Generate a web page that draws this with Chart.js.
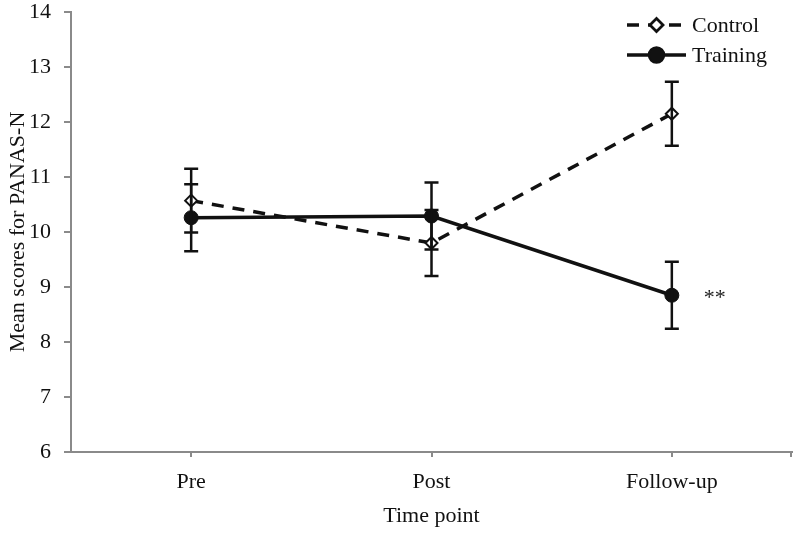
<!DOCTYPE html>
<html>
<head>
<meta charset="utf-8">
<title>PANAS-N</title>
<script src="https://cdn.jsdelivr.net/npm/chart.js@4"></script>
<style>
  html, body { margin: 0; padding: 0; background: #fff; }
  canvas { display: block; }
</style>
</head>
<body>
<canvas id="chart" width="800" height="533"></canvas>
<script>
const timePoints = ['Pre', 'Post', 'Follow-up'];
const controlMeans = [10.57, 9.80, 12.15];
const controlErr = [0.58, 0.60, 0.58];
const trainingMeans = [10.26, 10.29, 8.85];
const trainingErr = [0.61, 0.61, 0.61];
const yTicks = [6, 7, 8, 9, 10, 11, 12, 13, 14];

const FONT = "'Liberation Serif', 'Times New Roman', serif";
const AXIS_GREY = '#8a8a8a';

// error bars + the "**" mark, drawn through the scales
const errorBars = {
  id: 'errorBars',
  afterDatasetsDraw(chart) {
    const ctx = chart.ctx;
    const x = chart.scales.x, y = chart.scales.y;
    const errs = [controlErr, trainingErr];
    ctx.save();
    ctx.strokeStyle = '#111';
    ctx.lineWidth = 2.5;
    chart.data.datasets.forEach((ds, i) => {
      ds.data.forEach((v, j) => {
        const px = x.getPixelForValue(j);
        const top = y.getPixelForValue(v + errs[i][j]);
        const bot = y.getPixelForValue(v - errs[i][j]);
        ctx.beginPath();
        ctx.moveTo(px, top); ctx.lineTo(px, bot);
        ctx.moveTo(px - 7, top); ctx.lineTo(px + 7, top);
        ctx.moveTo(px - 7, bot); ctx.lineTo(px + 7, bot);
        ctx.stroke();
      });
    });
    // significance mark next to the follow-up training point
    ctx.fillStyle = '#222';
    ctx.font = '22px ' + FONT;
    ctx.textAlign = 'left';
    ctx.textBaseline = 'middle';
    ctx.fillText('**', x.getPixelForValue(2) + 32, y.getPixelForValue(trainingMeans[2]) + 3);
    // closing tick at right end of x axis
    ctx.strokeStyle = AXIS_GREY;
    ctx.lineWidth = 2;
    ctx.beginPath();
    ctx.moveTo(chart.chartArea.right - 1, chart.chartArea.bottom);
    ctx.lineTo(chart.chartArea.right - 1, chart.chartArea.bottom + 5);
    ctx.stroke();
    ctx.restore();
  }
};

// legend with a line segment and marker, like the original
const lineLegend = {
  id: 'lineLegend',
  afterDraw(chart) {
    const ctx = chart.ctx;
    const x0 = 627, x1 = 686;
    const rows = [25, 55];
    ctx.save();
    chart.data.datasets.forEach((ds, i) => {
      const yy = rows[i];
      ctx.strokeStyle = ds.borderColor;
      ctx.lineWidth = ds.borderWidth;
      ctx.setLineDash(ds.borderDash || []);
      ctx.beginPath();
      ctx.moveTo(x0, yy); ctx.lineTo(x1, yy);
      ctx.stroke();
      ctx.setLineDash([]);
      Chart.helpers.drawPoint(ctx, {
        pointStyle: ds.pointStyle,
        radius: ds.pointRadius,
        borderWidth: ds.pointBorderWidth
      }, (x0 + x1) / 2, yy);
      ctx.fillStyle = ds.pointBackgroundColor;
      ctx.strokeStyle = ds.pointBorderColor;
      ctx.lineWidth = ds.pointBorderWidth;
      ctx.fill();
      ctx.stroke();
      ctx.fillStyle = '#111';
      ctx.font = '22px ' + FONT;
      ctx.textAlign = 'left';
      ctx.textBaseline = 'middle';
      ctx.fillText(ds.label, x1 + 6, yy + 1);
    });
    ctx.restore();
  }
};

new Chart(document.getElementById('chart'), {
  type: 'line',
  data: {
    labels: timePoints,
    datasets: [
      {
        label: 'Control',
        data: controlMeans,
        borderColor: '#111',
        borderWidth: 3.5,
        borderDash: [12, 9],
        pointStyle: 'rectRot',
        pointRadius: 6,
        pointBackgroundColor: '#fff',
        pointBorderColor: '#111',
        pointBorderWidth: 2,
        tension: 0
      },
      {
        label: 'Training',
        data: trainingMeans,
        borderColor: '#111',
        borderWidth: 3.5,
        pointStyle: 'circle',
        pointRadius: 7,
        pointBackgroundColor: '#111',
        pointBorderColor: '#111',
        pointBorderWidth: 1,
        tension: 0
      }
    ]
  },
  options: {
    responsive: false,
    animation: false,
    layout: { padding: { top: 12, right: 6, left: 0, bottom: 0 } },
    plugins: {
      legend: { display: false },
      tooltip: { enabled: false }
    },
    scales: {
      x: {
        offset: true,
        grid: { display: true, offset: false, drawOnChartArea: false, drawTicks: true, tickLength: 5, color: AXIS_GREY, lineWidth: 2 },
        border: { color: AXIS_GREY, width: 2 },
        ticks: { color: '#111', font: { family: FONT, size: 22 }, padding: 12 },
        title: { display: true, text: 'Time point', color: '#111', font: { family: FONT, size: 22 }, padding: { top: 0 } },
        afterFit: s => { s.height = 81; s.paddingLeft = 0; s.paddingRight = 0; }
      },
      y: {
        min: 6,
        max: 14,
        afterBuildTicks: s => { s.ticks = yTicks.map(v => ({ value: v })); },
        grid: { display: true, drawOnChartArea: false, drawTicks: true, tickLength: 7, color: AXIS_GREY, lineWidth: 2 },
        border: { color: AXIS_GREY, width: 2 },
        ticks: { color: '#111', font: { family: FONT, size: 22 }, padding: 13 },
        title: { display: true, text: 'Mean scores for PANAS-N', color: '#111', font: { family: FONT, size: 22 }, padding: { top: 5, bottom: 0 } },
        afterFit: s => { s.width = 71; s.paddingTop = 0; s.paddingBottom = 0; }
      }
    }
  },
  plugins: [errorBars, lineLegend]
});
</script>
</body>
</html>
